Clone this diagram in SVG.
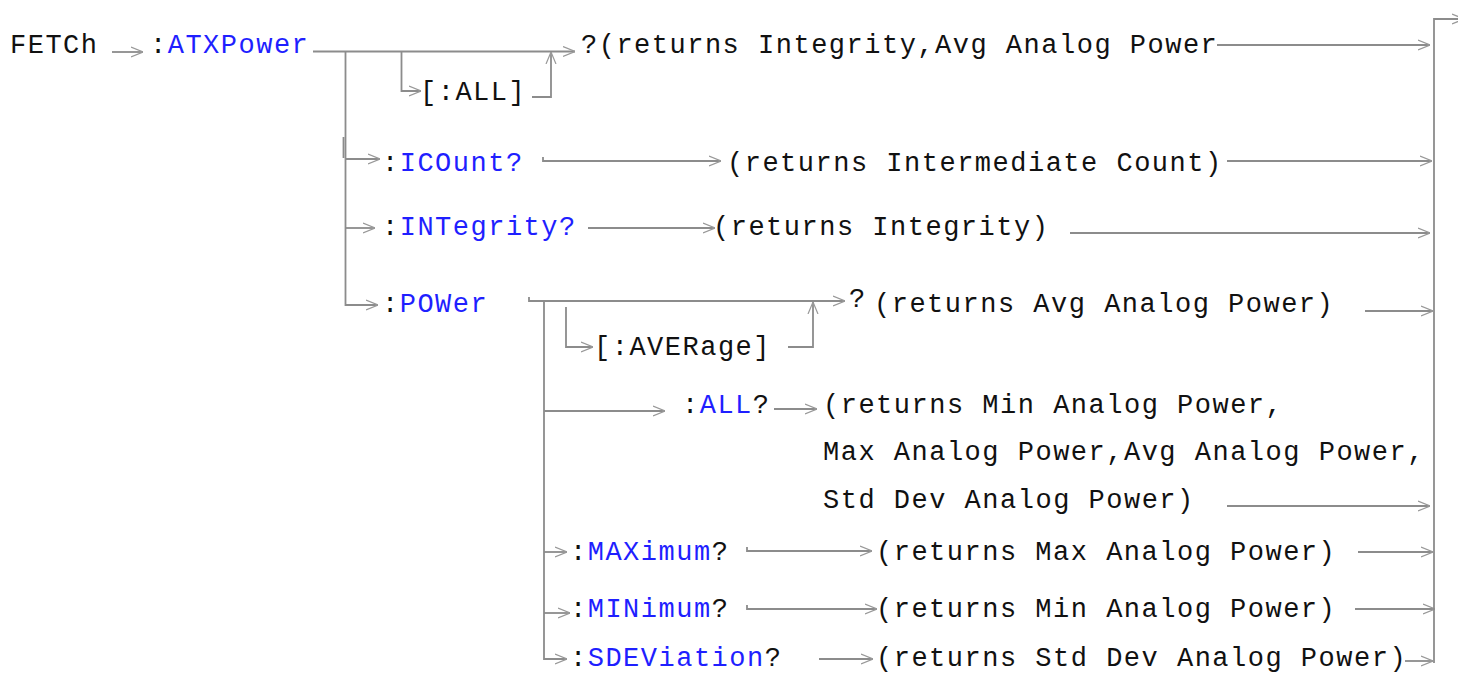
<svg xmlns="http://www.w3.org/2000/svg" width="1458" height="674" viewBox="0 0 1458 674">
<style>
text{font-family:"Liberation Mono","Courier New",monospace;font-size:27px;letter-spacing:1.5px;fill:#111;}
.k{fill:#1f1fff;}
.c path,.c line{stroke:#8c8c8c;stroke-width:1.8;fill:none;}
</style>
<defs>
<marker id="ah" viewBox="0 0 12 12" refX="12" refY="6" markerWidth="12" markerHeight="12" markerUnits="userSpaceOnUse" orient="auto">
<path d="M0,1 L12,6 L0,11" stroke="#999" stroke-width="1.2" fill="none"/>
</marker>
</defs>
<rect width="1458" height="674" fill="#fff"/>
<g class="c" id="connectors">
<path d="M112,52 H143" marker-end="url(#ah)"/>
<path d="M313,51.5 H575" marker-end="url(#ah)"/>
<path d="M401.5,51.5 V91 H421" marker-end="url(#ah)"/>
<path d="M532,97 H551 V52" marker-end="url(#ah)"/>
<path d="M1217,45 H1430" marker-end="url(#ah)"/>
<path d="M345.5,51.5 V305 H378" marker-end="url(#ah)"/>
<line x1="343.5" y1="137" x2="343.5" y2="158"/>
<path d="M345.5,159 H380" marker-end="url(#ah)"/>
<path d="M345.5,228 H375" marker-end="url(#ah)"/>
<path d="M543,157 V161 H721" marker-end="url(#ah)"/>
<path d="M1227,161 H1432" marker-end="url(#ah)"/>
<path d="M588,228 H715" marker-end="url(#ah)"/>
<path d="M1070,233 H1430" marker-end="url(#ah)"/>
<path d="M529,297 V301 H845" marker-end="url(#ah)"/>
<path d="M544,301 V659 H567" marker-end="url(#ah)"/>
<path d="M566,307 V347 H593" marker-end="url(#ah)"/>
<path d="M788,347 H813 V302" marker-end="url(#ah)"/>
<path d="M1365,311 H1433" marker-end="url(#ah)"/>
<path d="M544,411 H665" marker-end="url(#ah)"/>
<path d="M774,409 H817" marker-end="url(#ah)"/>
<path d="M1227,506 H1430" marker-end="url(#ah)"/>
<path d="M544,552 H567" marker-end="url(#ah)"/>
<path d="M747,547 V551 H872" marker-end="url(#ah)"/>
<path d="M1358,552 H1433" marker-end="url(#ah)"/>
<path d="M544,613 H570" marker-end="url(#ah)"/>
<path d="M747,605 V609 H877" marker-end="url(#ah)"/>
<path d="M1355,609 H1435" marker-end="url(#ah)"/>
<path d="M819,659 H873" marker-end="url(#ah)"/>
<path d="M1405,661 H1433" marker-end="url(#ah)"/>
<path d="M1434,663 V19 H1464" marker-end="url(#ah)"/>
</g>
<g id="fetch"><text x="10" y="53">FETCh</text></g>
<g id="atxpower"><text x="150" y="53">:<tspan class="k">ATXPower</tspan></text></g>
<g id="all-opt"><text x="420" y="100">[:ALL]</text></g>
<g id="ret-atx"><text x="581" y="53">?(returns Integrity,Avg Analog Power</text></g>
<g id="icount"><text x="382" y="171">:<tspan class="k">ICOunt?</tspan></text></g>
<g id="ret-icount"><text x="727" y="171">(returns Intermediate Count)</text></g>
<g id="integrity"><text x="382" y="235">:<tspan class="k">INTegrity?</tspan></text></g>
<g id="ret-integrity"><text x="713" y="235">(returns Integrity)</text></g>
<g id="power"><text x="382" y="312">:<tspan class="k">POWer</tspan></text></g>
<g id="average-opt"><text x="594" y="355">[:AVERage]</text></g>
<g id="power-q"><text x="849" y="307">?</text></g>
<g id="ret-power"><text x="874" y="312">(returns Avg Analog Power)</text></g>
<g id="power-all"><text x="682" y="413">:<tspan class="k">ALL</tspan>?</text></g>
<g id="ret-power-all">
<text x="823" y="413">(returns Min Analog Power,</text>
<text x="823" y="460">Max Analog Power,Avg Analog Power,</text>
<text x="823" y="508">Std Dev Analog Power)</text>
</g>
<g id="maximum"><text x="570" y="560">:<tspan class="k">MAXimum</tspan>?</text></g>
<g id="ret-max"><text x="876" y="560">(returns Max Analog Power)</text></g>
<g id="minimum"><text x="570" y="617">:<tspan class="k">MINimum</tspan>?</text></g>
<g id="ret-min"><text x="876" y="617">(returns Min Analog Power)</text></g>
<g id="sdeviation"><text x="570" y="666">:<tspan class="k">SDEViation</tspan>?</text></g>
<g id="ret-sdev"><text x="876" y="666">(returns Std Dev Analog Power)</text></g>
</svg>
